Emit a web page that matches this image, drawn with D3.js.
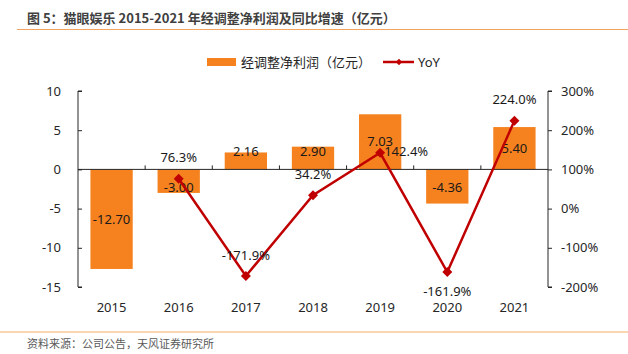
<!DOCTYPE html>
<html><head><meta charset="utf-8">
<script src="https://cdn.jsdelivr.net/npm/d3@7"></script>
<style>body{margin:0;background:#fff}svg{display:block}</style>
</head><body>
<svg id="c" width="628" height="354"></svg>
<script>
const years = ["2015","2016","2017","2018","2019","2020","2021"];
const profit = [-12.70, -3.00, 2.16, 2.90, 7.03, -4.36, 5.40];
const yoyYears = ["2016","2017","2018","2019","2020","2021"];
const yoy = [76.3, -171.9, 34.2, 142.4, -161.9, 224.0];
const yoyLabelPlace = ["above","above","above","right","below","above"];
const leftTicks = [10, 5, 0, -5, -10, -15];
const rightTicks = [300, 200, 100, 0, -100, -200];
const title = "图 5：猫眼娱乐 2015-2021 年经调整净利润及同比增速（亿元）";
const source = "资料来源：公司公告，天风证券研究所";
const legendBar = "经调整净利润（亿元）";
const legendLine = "YoY";

const barColor = "#F5821F", lineColor = "#C00000";
const numFont = "'Noto Sans', 'Liberation Sans', sans-serif";
const cjkFont = "'Noto Sans CJK SC', 'Noto Sans', sans-serif";

const svg = d3.select("#c");
const x = d3.scaleBand().domain(years).range([78, 548]).paddingInner(0.37).paddingOuter(0.185);
const yL = d3.scaleLinear().domain([-15, 10]).range([287, 91]);
const yR = d3.scaleLinear().domain([-200, 300]).range([287, 91]);

// title & rules
svg.append("text").attr("x", 27).attr("y", 23).attr("font-family", cjkFont)
  .attr("font-size", 13).attr("font-weight", "bold").attr("fill", "#404040").text(title);
svg.append("line").attr("x1", 17).attr("x2", 628).attr("y1", 29.5).attr("y2", 29.5)
  .attr("stroke", "#F4A460").attr("stroke-width", 1.2);
svg.append("line").attr("x1", 0).attr("x2", 628).attr("y1", 332).attr("y2", 332)
  .attr("stroke", "#FAC898").attr("stroke-width", 1.5);
svg.append("text").attr("x", 27).attr("y", 348).attr("font-family", cjkFont)
  .attr("font-size", 11).attr("fill", "#595959").text(source);

// bars
svg.append("g").selectAll("rect").data(years).join("rect")
  .attr("x", d => x(d)).attr("width", x.bandwidth())
  .attr("y", (d, i) => yL(Math.max(0, profit[i])))
  .attr("height", (d, i) => Math.abs(yL(profit[i]) - yL(0)))
  .attr("fill", barColor);

// axes
const axL = svg.append("g").attr("transform", "translate(78,0)")
  .call(d3.axisRight(yL).tickValues(leftTicks).tickSize(4).tickFormat(""));
axL.selectAll("path,line").attr("stroke", "#262626");
axL.select(".domain").attr("d", `M4,${yL(10)}H0V${yL(-15)}H4`);
svg.append("g").selectAll("text").data(leftTicks).join("text")
  .attr("x", 61).attr("y", d => yL(d)).attr("dy", "0.35em").attr("text-anchor", "end")
  .attr("font-family", numFont).attr("font-size", 13).attr("fill", "#262626")
  .text(d => d);

const axR = svg.append("g").attr("transform", "translate(548,0)")
  .call(d3.axisRight(yR).tickValues(rightTicks).tickSize(4).tickFormat(""));
axR.selectAll("path,line").attr("stroke", "#262626");
axR.select(".domain").attr("d", `M4,${yR(300)}H0V${yR(-200)}H4`);
svg.append("g").selectAll("text").data(rightTicks).join("text")
  .attr("x", 561).attr("y", d => yR(d)).attr("dy", "0.35em").attr("text-anchor", "start")
  .attr("font-family", numFont).attr("font-size", 13).attr("fill", "#262626")
  .text(d => d + "%");

// zero line with category ticks
const axX = svg.append("g").attr("transform", `translate(0,${yL(0)})`)
  .call(d3.axisTop(x).tickSize(0).tickFormat(""));
axX.select(".domain").attr("d", "M78,0H548").attr("stroke", "#262626");
const bounds = years.slice(1).map(d => x(d) - x.step() * x.paddingInner() / 2);
axX.selectAll(".bt").data(bounds).join("line").attr("class", "bt")
  .attr("x1", d => d).attr("x2", d => d).attr("y1", 0).attr("y2", -4).attr("stroke", "#262626");
svg.append("g").selectAll("text").data(years).join("text")
  .attr("x", d => x(d) + x.bandwidth() / 2).attr("y", 307).attr("dy", "0.35em")
  .attr("text-anchor", "middle").attr("font-family", numFont).attr("font-size", 13)
  .attr("fill", "#262626").text(d => d);

// bar labels
svg.append("g").selectAll("text").data(years).join("text")
  .attr("x", d => x(d) + x.bandwidth() / 2)
  .attr("y", (d, i) => {
    const mid = (yL(profit[i]) + yL(0)) / 2;
    const off = mid - yL(0);
    return yL(0) + Math.sign(off) * Math.max(Math.abs(off), 18);
  })
  .attr("dy", "0.35em").attr("text-anchor", "middle").attr("font-family", numFont)
  .attr("font-size", 13).attr("fill", "#1a1a1a").text((d, i) => profit[i].toFixed(2));

// line
const cx = d => x(d) + x.bandwidth() / 2;
const line = d3.line().x((d, i) => cx(yoyYears[i])).y(d => yR(d));
svg.append("path").datum(yoy).attr("d", line).attr("fill", "none")
  .attr("stroke", lineColor).attr("stroke-width", 2.5);
svg.append("g").selectAll("path").data(yoy).join("path")
  .attr("d", d3.symbol(d3.symbolSquare, 50))
  .attr("transform", (d, i) => `translate(${cx(yoyYears[i])},${yR(d)}) rotate(45)`)
  .attr("fill", lineColor);
svg.append("g").selectAll("text").data(yoy).join("text")
  .attr("x", (d, i) => cx(yoyYears[i]) + (yoyLabelPlace[i] === "right" ? 4 : 0))
  .attr("y", (d, i) => yR(d) + (yoyLabelPlace[i] === "above" ? -21 : yoyLabelPlace[i] === "below" ? 19 : -1))
  .attr("dy", "0.35em")
  .attr("text-anchor", (d, i) => yoyLabelPlace[i] === "right" ? "start" : "middle")
  .attr("font-family", numFont).attr("font-size", 13).attr("fill", "#1a1a1a")
  .text(d => d.toFixed(1) + "%");

// legend
const lg = svg.append("g");
lg.append("rect").attr("x", 207).attr("y", 58).attr("width", 29).attr("height", 8).attr("fill", barColor);
lg.append("text").attr("x", 241).attr("y", 62).attr("dy", "0.35em").attr("font-family", cjkFont)
  .attr("font-size", 13).attr("fill", "#262626").text(legendBar);
lg.append("line").attr("x1", 383).attr("x2", 414).attr("y1", 62).attr("y2", 62)
  .attr("stroke", lineColor).attr("stroke-width", 2.5);
lg.append("path").attr("d", d3.symbol(d3.symbolSquare, 20))
  .attr("transform", "translate(399,62) rotate(45)").attr("fill", lineColor);
lg.append("text").attr("x", 418).attr("y", 62).attr("dy", "0.35em").attr("font-family", numFont)
  .attr("font-size", 13).attr("fill", "#262626").text(legendLine);
</script>
</body></html>
